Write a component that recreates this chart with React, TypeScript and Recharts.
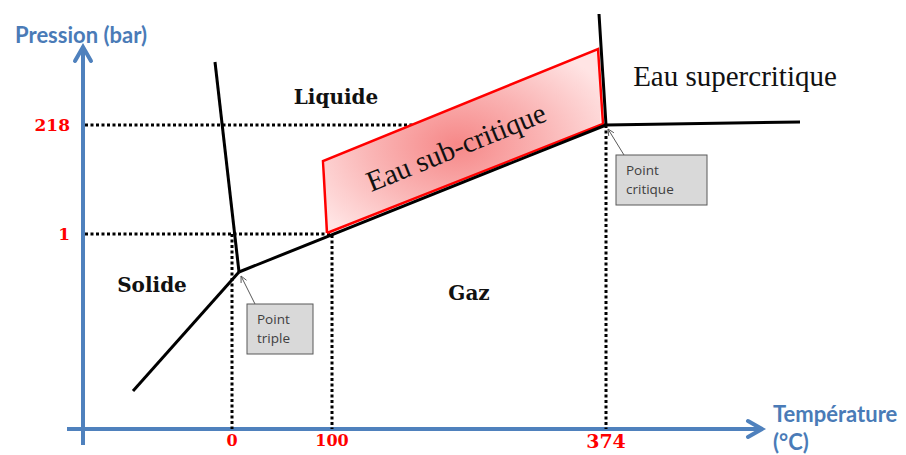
import { ComposedChart, Line, Area, XAxis, YAxis, ReferenceLine, ReferenceDot } from 'recharts'

// Schematic phase diagram of water: x = temperature (°C), y = pressure level (schematic, not to scale)
const T_DOMAIN = [-232, 674]
const P_DOMAIN = [-6.5, 107.25]

const X_TICKS = [0, 100, 374]
const X_TICK_TOPS = [48.75, 48.5, 76]
const P_TICK_LABELS = ['1', '218']
const P_TICK_LEVELS = [48.75, 76]
const P_GUIDE_ENDS = [100, 374]

const TRIPLE = { t: 7, p: 39.25 }
const CRITICAL = { t: 374, p: 76 }

const SOLID_GAS = [{ t: -99, p: 9.5 }, TRIPLE]
const SOLID_LIQUID = [TRIPLE, { t: -17, p: 91.75 }]
const LIQUID_GAS = [TRIPLE, CRITICAL]
const CRIT_UP = [CRITICAL, { t: 367, p: 103.75 }]
const CRIT_RIGHT = [CRITICAL, { t: 568, p: 76.75 }]

const SUB_BORDER = [
  { t: 95, p: 49 }, { t: 91, p: 67 }, { t: 366, p: 95 }, { t: 371, p: 76.25 }, { t: 95, p: 49 },
]
const SUB_FILL = [
  { t: 93, range: [48.8, 67.2] },
  { t: 368.5, range: [76, 95.2] },
]

const REGIONS = [
  { name: 'Liquide', t: 104, p: 83 },
  { name: 'Solide', t: -80, p: 36 },
  { name: 'Gaz', t: 237, p: 34 },
]

const BLUE = '#4F81BD'
const TITLE_BLUE = '#4A7BB7'
const SERIF = '"DejaVu Serif", serif'
const BOOK = '"Liberation Serif", serif'
const TOP = 2500

const AxisArrow = (props: any) => {
  const { x1, y1, x2, y2 } = props
  const a = Math.atan2(y2 - y1, x2 - x1)
  const bx = x2 - 14 * Math.cos(a)
  const by = y2 - 14 * Math.sin(a)
  const wx = 8 * Math.sin(a)
  const wy = -8 * Math.cos(a)
  return (
    <g>
      <line x1={x1} y1={y1} x2={x2} y2={y2} stroke={BLUE} strokeWidth={4} />
      <polyline
        points={`${bx + wx},${by + wy} ${x2},${y2} ${bx - wx},${by - wy}`}
        fill="none" stroke={BLUE} strokeWidth={4} strokeLinecap="round" strokeLinejoin="miter"
      />
    </g>
  )
}

const Callout = ({ cx, cy, dx, dy, w, lines }: any) => {
  const sx = cx + dx + 8
  const sy = cy + dy
  const tx = cx + 2
  const ty = cy + 4
  const a = Math.atan2(ty - sy, tx - sx)
  const h1 = `${tx - 7 * Math.cos(a - 0.45)},${ty - 7 * Math.sin(a - 0.45)}`
  const h2 = `${tx - 7 * Math.cos(a + 0.45)},${ty - 7 * Math.sin(a + 0.45)}`
  return (
    <g>
      <line x1={sx} y1={sy} x2={tx} y2={ty} stroke="#595959" strokeWidth={1} />
      <polyline points={`${h1} ${tx},${ty} ${h2}`} fill="none" stroke="#595959" strokeWidth={1} />
      <rect x={cx + dx} y={cy + dy} width={w} height={50} fill="#D9D9D9" stroke="#595959" strokeWidth={1} />
      {lines.map((l: string, i: number) => (
        <text key={l} x={cx + dx + 10} y={cy + dy + 20 + i * 19} fontSize={13.5}
          fontFamily='"Open Sans", sans-serif' fill="#404040">{l}</text>
      ))}
    </g>
  )
}

const Txt = ({ cx, cy, text, size, bold, family, color, rotate, anchor }: any) => (
  <text
    x={cx} y={cy} fontSize={size} fontWeight={bold ? 'bold' : 'normal'} fontFamily={family}
    fill={color} textAnchor={anchor || 'middle'} dominantBaseline="central"
    transform={rotate ? `rotate(${rotate}, ${cx}, ${cy})` : undefined}
  >{text}</text>
)

const tickStyle = { fill: '#FF0000', fontWeight: 'bold', fontFamily: SERIF, fontSize: 16 }

export default function App() {
  return (
    <div style={{ position: 'absolute', left: 0, top: 0, background: '#fff' }}>
      <ComposedChart width={906} height={455} data={SUB_FILL} margin={{ top: 0, right: 0, bottom: 0, left: 0 }}>
        <defs>
          <radialGradient id="subFill" cx="48%" cy="52%" r="62%">
            <stop offset="0%" stopColor="#F68888" />
            <stop offset="50%" stopColor="#FAB4B4" />
            <stop offset="100%" stopColor="#FFE4E4" />
          </radialGradient>
        </defs>
        <XAxis type="number" dataKey="t" domain={T_DOMAIN} allowDataOverflow hide />
        <YAxis type="number" domain={P_DOMAIN} allowDataOverflow hide />

        {/* blue axes */}
        <ReferenceLine zIndex={200} segment={[{ x: -149, y: -4 }, { x: -149, y: 95.5 }]} shape={AxisArrow} />
        <ReferenceLine zIndex={200} segment={[{ x: -165, y: 0 }, { x: 530, y: 0 }]} shape={AxisArrow} />

        {/* dotted guides */}
        {P_TICK_LEVELS.map((lv, i) => (
          <ReferenceLine
            key={'p' + i} zIndex={250}
            segment={[{ x: -147, y: lv }, { x: P_GUIDE_ENDS[i], y: lv }]}
            stroke="#000" strokeWidth={3} strokeDasharray="3 2.5"
            label={{ value: P_TICK_LABELS[i], position: 'left', offset: 15, ...tickStyle, fontSize: 17 }}
          />
        ))}
        {X_TICKS.map((t, i) => (
          <ReferenceLine
            key={'t' + i} zIndex={250}
            segment={[{ x: t, y: X_TICK_TOPS[i] }, { x: t, y: 0 }]}
            stroke="#000" strokeWidth={3} strokeDasharray="3 2.5"
            label={{ value: String(t), position: 'bottom', offset: 6, ...tickStyle, fontSize: t === 374 ? 19 : 16 }}
          />
        ))}

        <Area zIndex={450} type="linear" dataKey="range" stroke="none" fill="url(#subFill)" fillOpacity={1}
          isAnimationActive={false} dot={false} activeDot={false} />
        <Line zIndex={460} data={SUB_BORDER} dataKey="p" type="linear" stroke="#FF0000" strokeWidth={2.5}
          dot={false} activeDot={false} isAnimationActive={false} />

        {[SOLID_GAS, SOLID_LIQUID, LIQUID_GAS, CRIT_UP, CRIT_RIGHT].map((d, i) => (
          <Line zIndex={470} key={i} data={d} dataKey="p" type="linear" stroke="#000" strokeWidth={3}
            dot={false} activeDot={false} isAnimationActive={false} />
        ))}

        {REGIONS.map((r) => (
          <ReferenceDot key={r.name} x={r.t} y={r.p} r={0} zIndex={TOP}
            shape={(p: any) => <Txt {...p} text={r.name} size={20} bold family={SERIF} color="#111" />} />
        ))}
        <ReferenceDot x={224} y={70.5} r={0} zIndex={TOP}
          shape={(p: any) => <Txt {...p} text="Eau sub-critique" size={29} family={BOOK} color="#111" rotate={-22} />} />
        <ReferenceDot x={503} y={88.25} r={0} zIndex={TOP}
          shape={(p: any) => <Txt {...p} text="Eau supercritique" size={29} family={BOOK} color="#111" />} />

        <ReferenceDot x={TRIPLE.t} y={TRIPLE.p} r={0} zIndex={TOP}
          shape={(p: any) => <Callout {...p} dx={8} dy={32} w={66} lines={['Point', 'triple']} />} />
        <ReferenceDot x={CRITICAL.t} y={CRITICAL.p} r={0} zIndex={TOP}
          shape={(p: any) => <Callout {...p} dx={10} dy={30} w={91} lines={['Point', 'critique']} />} />

        <ReferenceDot x={-151} y={98.75} r={0} zIndex={TOP}
          shape={(p: any) => <Txt {...p} text="Pression (bar)" size={22} bold family="Lato, sans-serif" color={TITLE_BLUE} />} />
        <ReferenceDot x={541} y={4} r={0} zIndex={TOP}
          shape={(p: any) => <Txt {...p} text="Température" size={22} bold family="Lato, sans-serif" color={TITLE_BLUE} anchor="start" />} />
        <ReferenceDot x={541} y={-3} r={0} zIndex={TOP}
          shape={(p: any) => <Txt {...p} text="(°C)" size={22} bold family="Lato, sans-serif" color={TITLE_BLUE} anchor="start" />} />
      </ComposedChart>
    </div>
  )
}
